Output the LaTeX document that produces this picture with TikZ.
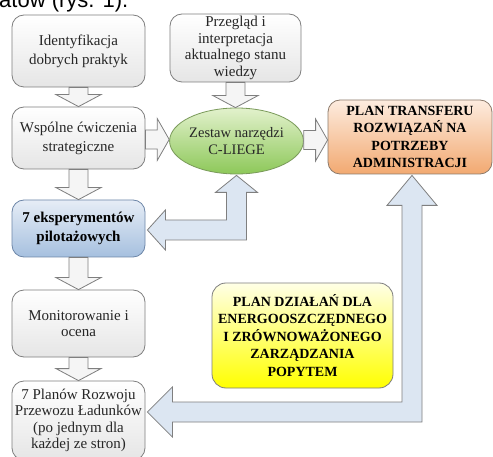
\documentclass[tikz,border=0pt]{standalone}
\usepackage{fontspec}
\setmainfont{Liberation Serif}
\newfontfamily\capfont{Liberation Sans}
\usetikzlibrary{calc,shapes.geometric}
\definecolor{boxline}{HTML}{7F7F7F}
\definecolor{arrfill}{HTML}{DCE6F2}
\definecolor{pilottop}{HTML}{E6EDF6}
\definecolor{pilotbot}{HTML}{A6C0DF}
\definecolor{pilotline}{HTML}{6D86A8}
\definecolor{zesttop}{HTML}{E2F1CC}
\definecolor{zestbot}{HTML}{8DC859}
\definecolor{zestline}{HTML}{7A9A5A}
\definecolor{plantop}{HTML}{FDECDF}
\definecolor{planbot}{HTML}{F2A971}
\definecolor{planline}{HTML}{8C7A6B}
\definecolor{yeltop}{HTML}{FFFFE6}
\definecolor{yelbot}{HTML}{FFFF00}
\definecolor{txtgray}{HTML}{262626}
\newcommand\vsmall[2]{\draw[smallarr] let \p1=(#1.south), \p2=(#2.north) in
  (\x1-9.5pt,\y1) -- (\x1-9.5pt,\y2+12pt) -- (\x1-22.5pt,\y2+12pt) -- (\x1,\y2)
  -- (\x1+22.5pt,\y2+12pt) -- (\x1+9.5pt,\y2+12pt) -- (\x1+9.5pt,\y1) -- cycle;}
\newcommand\hsmall[3]{\draw[smallarr] let \p1=(#1.east), \p2=(#2.west), \p3=(0,#3) in
  (\x1,\y3+9.5pt) -- (\x2-12pt,\y3+9.5pt) -- (\x2-12pt,\y3+21pt) -- (\x2,\y3)
  -- (\x2-12pt,\y3-21pt) -- (\x2-12pt,\y3-9.5pt) -- (\x1,\y3-9.5pt) -- cycle;}
\begin{document}
\begin{tikzpicture}[x=1pt,y=-1pt,
  base/.style={line width=0.8pt, align=center, inner sep=0pt},
  graybox/.style={base, draw=boxline, rounded corners=12pt, top color=white, bottom color=black!10,
     text=txtgray, font=\fontsize{15}{19}\selectfont},
  tightbox/.style={graybox, font=\fontsize{15}{16.5}\selectfont},
  pilotbox/.style={base, draw=pilotline, rounded corners=12pt, top color=pilottop, bottom color=pilotbot,
     font=\bfseries\fontsize{15}{19}\selectfont},
  zestshape/.style={base, ellipse, draw=zestline, top color=zesttop, bottom color=zestbot,
     text=txtgray, font=\fontsize{14.5}{17}\selectfont},
  planbox/.style={base, draw=planline, rounded corners=12pt, top color=plantop, bottom color=planbot,
     font=\bfseries\fontsize{14}{17.5}\selectfont},
  yelbox/.style={base, draw=boxline, rounded corners=14pt, top color=yeltop, bottom color=yelbot,
     font=\bfseries\fontsize{14}{17.5}\selectfont},
  smallarr/.style={draw=boxline, line width=0.8pt, fill=black!4, line join=miter},
  bigarr/.style={draw=boxline, line width=0.8pt, fill=arrfill, line join=miter}]
\useasboundingbox (0,0) rectangle (493,457);
\clip (0,0) rectangle (493,457);
\fill[white] (0,0) rectangle (493,457);

\node[anchor=base west, inner sep=0pt, font=\capfont\fontsize{22}{26}\selectfont] (cap) at (-1,8) {atów (rys. 1).};

\node[graybox, minimum width=133pt, minimum height=72pt] (ident) at (78.5,51) {Identyfikacja\\dobrych praktyk};
\node[tightbox, minimum width=131pt, minimum height=68pt] (przeg) at (235.5,48) {Przegląd i\\interpretacja\\aktualnego stanu\\wiedzy};
\node[graybox, minimum width=133pt, minimum height=62pt] (wspol) at (78.5,138) {Wspólne ćwiczenia\\strategiczne};
\node[zestshape, minimum width=133pt, minimum height=66pt] (zest) at (236.5,141) {Zestaw narzędzi\\C-LIEGE};
\node[planbox, minimum width=164pt, minimum height=74pt] (plan) at (410,137) {PLAN TRANSFERU\\ROZWIĄZAŃ NA\\POTRZEBY\\ADMINISTRACJI};
\node[pilotbox, minimum width=133pt, minimum height=57pt] (pilot) at (78.5,228.5) {7 eksperymentów\\pilotażowych};
\node[tightbox, minimum width=133pt, minimum height=67pt] (monit) at (78.5,323.5) {Monitorowanie i\\ocena};
\node[tightbox, minimum width=133pt, minimum height=79pt] (fplan) at (78.5,420.5) {7 Planów Rozwoju\\Przewozu Ładunków\\(po jednym dla\\każdej ze stron)};
\node[yelbox, minimum width=181pt, minimum height=105pt] (yel) at (302.5,335.5) {PLAN DZIAŁAŃ DLA\\ENERGOOSZCZĘDNEGO\\I ZRÓWNOWAŻONEGO\\ZARZĄDZANIA\\POPYTEM};

\vsmall{ident}{wspol}
\vsmall{wspol}{pilot}
\vsmall{pilot}{monit}
\vsmall{monit}{fplan}
\vsmall{przeg}{zest}
\hsmall{wspol}{zest}{139.5}
\hsmall{zest}{plan}{140}

% L-shaped double arrow between toolkit and pilot experiments
\draw[bigarr] let \p1=($(zest.south)+(0,1)$), \p2=($(pilot.east)+(2,1.5)$) in
  (\x1,\y1) -- (\x1+21pt,\y1-17pt) -- (\x1+10pt,\y1-17pt) -- (\x1+10pt,\y2-10pt)
  -- (\x2+18pt,\y2-10pt) -- (\x2+18pt,\y2-20pt) -- (\x2,\y2) -- (\x2+18pt,\y2+20pt)
  -- (\x2+18pt,\y2+10pt) -- (\x1-10pt,\y2+10pt) -- (\x1-10pt,\y1-17pt) -- (\x1-21pt,\y1-17pt) -- cycle;

% U-shaped double arrow between freight plans and transfer plan
\draw[bigarr] let \p1=($(plan.south)+(2,1)$), \p2=($(fplan.east)+(2,-8.5)$) in
  (\x2,\y2) -- (\x2+25pt,\y2+25pt) -- (\x2+25pt,\y2+10pt) -- (\x1-10pt,\y2+10pt)
  -- (\x1-10pt,\y1-30pt) -- (\x1-25pt,\y1-30pt) -- (\x1,\y1) -- (\x1+25pt,\y1-30pt)
  -- (\x1+10pt,\y1-30pt) -- (\x1+10pt,\y2-10pt) -- (\x2+25pt,\y2-10pt) -- (\x2+25pt,\y2-25pt) -- cycle;
\end{tikzpicture}
\end{document}
